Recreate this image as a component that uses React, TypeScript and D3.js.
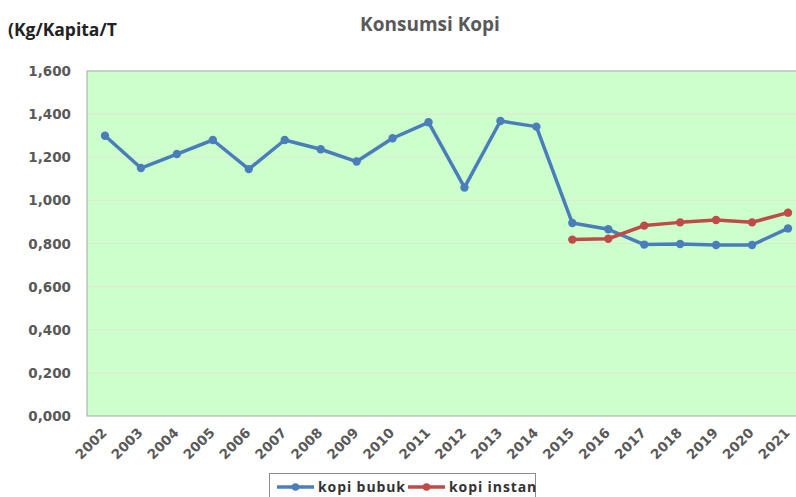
import React, {useEffect, useRef} from 'react';
import * as d3 from 'd3';

const years = ['2002', '2003', '2004', '2005', '2006', '2007', '2008', '2009', '2010', '2011',
    '2012', '2013', '2014', '2015', '2016', '2017', '2018', '2019', '2020', '2021'];
const kopiBubuk = [1.300, 1.150, 1.215, 1.280, 1.145, 1.280, 1.237, 1.180, 1.288, 1.362,
    1.060, 1.368, 1.342, 0.895, 0.866, 0.795, 0.798, 0.793, 0.793, 0.870];
const kopiInstanYears = ['2015', '2016', '2017', '2018', '2019', '2020', '2021'];
const kopiInstan = [0.818, 0.822, 0.883, 0.898, 0.909, 0.898, 0.943];
const yTicks = [0, 0.2, 0.4, 0.6, 0.8, 1.0, 1.2, 1.4, 1.6];

const W = 796, H = 497;
const font = "'Open Sans', 'DejaVu Sans', sans-serif";
const axisFont = "'DejaVu Sans', sans-serif";

const App = () => {
    const svgRef = useRef<SVGSVGElement>(null);

    useEffect(() => {
        const svg = d3.select(svgRef.current);
        svg.selectAll('*').remove();

        const plotLeft = 87, plotTop = 71, plotBottom = 416;
        const x = d3.scalePoint().domain(years).range([105, 788]);
        const y = d3.scaleLinear().domain([0, 1.6]).range([plotBottom, plotTop]);
        const fmt = (v: number) => d3.format('.3f')(v).replace('.', ',');

        svg.append('rect').attr('width', W).attr('height', H).attr('fill', '#fff');

        // plot area
        svg.append('rect')
            .attr('x', plotLeft).attr('y', plotTop)
            .attr('width', W - plotLeft + 2).attr('height', plotBottom - plotTop)
            .attr('fill', '#ccffcc').attr('stroke', '#a6a6a6').attr('stroke-width', 1);

        svg.append('g').selectAll('line')
            .data(yTicks.slice(1, -1))
            .join('line')
            .attr('x1', plotLeft + 1).attr('x2', W)
            .attr('y1', d => y(d)).attr('y2', d => y(d))
            .attr('stroke', '#dfe8d0').attr('stroke-width', 1.2);

        // y axis labels
        svg.append('g').selectAll('text')
            .data(yTicks)
            .join('text')
            .attr('x', 71).attr('y', d => y(d) + 5)
            .attr('text-anchor', 'end')
            .attr('font-family', axisFont).attr('font-weight', 700).attr('font-size', 13.5)
            .attr('fill', '#595959')
            .text(d => fmt(d));

        // x axis labels
        svg.append('g').selectAll('text')
            .data(years)
            .join('text')
            .attr('transform', d => `translate(${x(d)! - 4},${427}) rotate(-45)`)
            .attr('text-anchor', 'end')
            .attr('dy', '0.7em')
            .attr('font-family', axisFont).attr('font-weight', 700).attr('font-size', 13.5)
            .attr('fill', '#595959')
            .text(d => d);

        const line = d3.line<[string, number]>().x(d => x(d[0])!).y(d => y(d[1]));
        const series = [
            {name: 'kopi bubuk', color: '#4a7ebb', pts: years.map((yr, i) => [yr, kopiBubuk[i]] as [string, number])},
            {name: 'kopi instan', color: '#be4b48', pts: kopiInstanYears.map((yr, i) => [yr, kopiInstan[i]] as [string, number])},
        ];

        series.forEach(s => {
            svg.append('path')
                .attr('d', line(s.pts))
                .attr('fill', 'none').attr('stroke', s.color)
                .attr('stroke-width', 3.5).attr('stroke-linejoin', 'round');
            svg.append('g').selectAll('circle')
                .data(s.pts)
                .join('circle')
                .attr('cx', d => x(d[0])!).attr('cy', d => y(d[1]))
                .attr('r', 4.2).attr('fill', s.color);
        });

        // title
        svg.append('text')
            .attr('x', 430).attr('y', 31).attr('text-anchor', 'middle')
            .attr('font-family', font).attr('font-weight', 700).attr('font-size', 19)
            .attr('fill', '#595959').text('Konsumsi Kopi');
        svg.append('text')
            .attr('x', 8).attr('y', 36)
            .attr('font-family', font).attr('font-weight', 700).attr('font-size', 17.5)
            .attr('fill', '#222').text('(Kg/Kapita/T');

        // legend
        const lg = svg.append('g');
        lg.append('rect').attr('x', 269.5).attr('y', 473.5).attr('width', 266).attr('height', 30)
            .attr('fill', '#fff').attr('stroke', '#8c8c8c');
        const legendX = [277, 408];
        series.forEach((s, i) => {
            const lx = legendX[i];
            lg.append('line').attr('x1', lx).attr('x2', lx + 37).attr('y1', 487).attr('y2', 487)
                .attr('stroke', s.color).attr('stroke-width', 3.5);
            lg.append('circle').attr('cx', lx + 18.5).attr('cy', 487).attr('r', 3.8).attr('fill', s.color);
            lg.append('text').attr('x', lx + 41).attr('y', 492)
                .attr('font-family', font).attr('font-weight', 700).attr('font-size', 14)
                .attr('letter-spacing', 0.9)
                .attr('fill', '#333').text(s.name);
        });
    }, []);

    return (
        <svg ref={svgRef} width={W} height={H}
             style={{position: 'absolute', left: 0, top: 0, display: 'block'}}></svg>
    );
};

export default App;
